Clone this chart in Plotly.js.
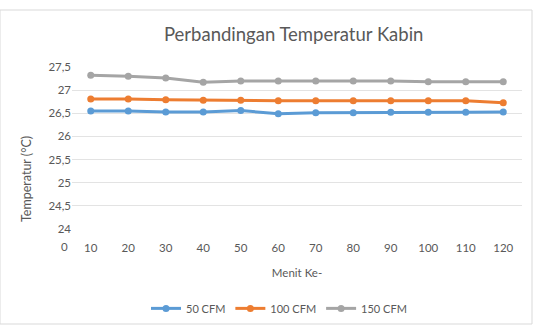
<!DOCTYPE html>
<html><head><meta charset="utf-8">
<script src="https://cdn.plot.ly/plotly-3.0.1.min.js"></script>
<style>html,body{margin:0;padding:0;background:#fff;}#chart{width:534px;height:325px;}</style>
</head><body><div id="chart"></div>
<script>
const minutes = [10,20,30,40,50,60,70,80,90,100,110,120];
const cfm50  = [26.55,26.55,26.53,26.53,26.56,26.49,26.51,26.51,26.52,26.52,26.52,26.53];
const cfm100 = [26.81,26.81,26.79,26.78,26.78,26.77,26.77,26.77,26.77,26.77,26.77,26.73];
const cfm150 = [27.32,27.30,27.26,27.17,27.20,27.20,27.20,27.20,27.20,27.18,27.18,27.18];
const seriesNames = ["50 CFM","100 CFM","150 CFM"];
const colors = ["#5b9bd5","#ed7d31","#a5a5a5"];
const yTicks = [24,24.5,25,25.5,26,26.5,27,27.5];
const yTickText = ["24","24,5","25","25,5","26","26,5","27","27,5"];

const font = "Lato, 'Open Sans', sans-serif";
const data = [cfm50,cfm100,cfm150].map((ys,i)=>({
  x: minutes, y: ys, name: seriesNames[i], type:'scatter', mode:'lines+markers',
  line:{color:colors[i], width:3}, marker:{color:colors[i], size:7}
}));
const W = 450, H = 162;
const layout = {
  width:534, height:325,
  margin:{l:72, r:12, t:67, b:96, autoexpand:false},
  paper_bgcolor:'#fff', plot_bgcolor:'#fff',
  font:{family:font, color:'#595959', size:11},
  title:{text:'Perbandingan Temperatur Kabin', font:{size:18.5, color:'#595959', family:font}, x:0.55, xanchor:'center', y:0.895, yanchor:'middle'},
  xaxis:{range:[5,125], tickvals:minutes, ticktext:minutes.map(String), showgrid:false, zeroline:false, automargin:false,
    showline:false, ticks:'', ticklabelstandoff:10, tickfont:{size:11.5, color:'#595959'},
    title:{text:'Menit Ke-', font:{size:11.5, color:'#595959'}, standoff:16}},
  yaxis:{range:[24,27.5], tickvals:yTicks, ticktext:yTickText, showgrid:true, gridcolor:'#e3e3e3', gridwidth:1, automargin:false,
    zeroline:false, showline:false, ticks:'', tickfont:{size:11.5, color:'#595959'}},
  legend:{orientation:'h', x:0.46, xanchor:'center', y:-0.49, yanchor:'middle', font:{size:11, color:'#595959'}, itemwidth:30},
  annotations:[
    {text:'0', xref:'paper', yref:'paper', x:(64-72)/W, y:(229-246)/H, showarrow:false, font:{size:11.5,color:'#595959'}, xanchor:'center', yanchor:'middle'},
    {text:'Temperatur (°C)', xref:'paper', yref:'paper', x:(26-72)/W, y:(229-179)/H, textangle:-90, showarrow:false, font:{size:12.5,color:'#595959'}, xanchor:'center', yanchor:'middle'}
  ],
  shapes:[{type:'rect', xref:'paper', yref:'paper', x0:-72/W, x1:1+10/W, y0:-95/H, y1:1+57/H, line:{color:'#d9d9d9', width:1}}],
  showlegend:true
};
Plotly.newPlot('chart', data, layout, {displayModeBar:false, staticPlot:true});
</script></body></html>
